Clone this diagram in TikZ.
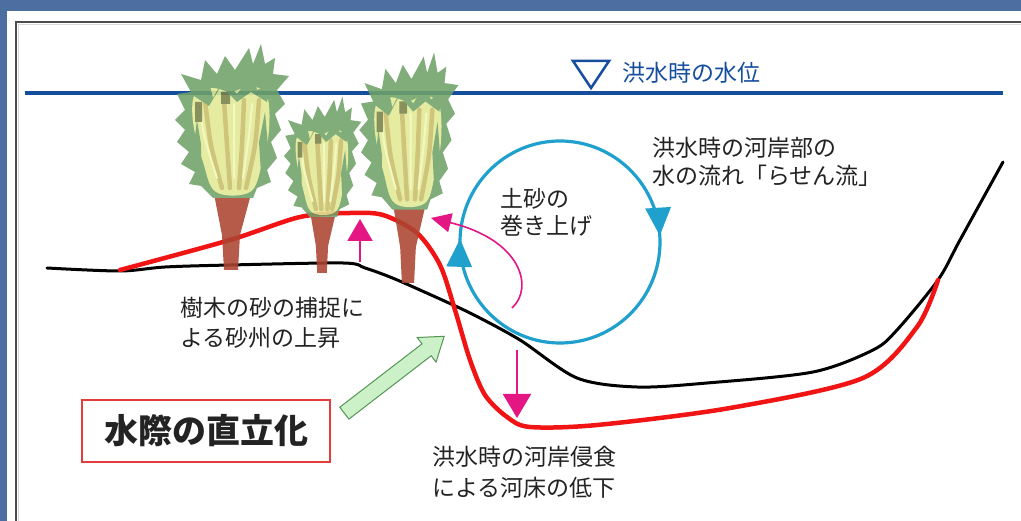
\documentclass[tikz,border=0pt]{standalone}
\usepackage{fontspec}
\newfontfamily\jp{Noto Sans CJK JP}
\usetikzlibrary{
  arrows.meta,
  decorations.markings,
  shapes.arrows,
}
\definecolor{slideblue}{RGB}{76,110,160}
\definecolor{floodblue}{RGB}{22,78,158}
\definecolor{vortex}{RGB}{32,160,204}
\definecolor{sandpink}{RGB}{228,22,132}
\definecolor{bankred}{RGB}{240,20,20}
\definecolor{boxred}{RGB}{226,60,60}
\definecolor{leafgreen}{RGB}{112,162,104}
\definecolor{leafpale}{RGB}{226,234,150}
\definecolor{leafolive}{RGB}{200,190,104}
\definecolor{leaflight}{RGB}{242,248,184}
\definecolor{leafdark}{RGB}{120,130,72}
\definecolor{bark}{RGB}{172,68,50}
\definecolor{pushfill}{RGB}{204,240,200}
\definecolor{pushedge}{RGB}{84,150,84}
\definecolor{ink}{RGB}{35,35,35}
\tikzstyle{note} = [
  anchor=north west,
  align=left,
  inner sep=0pt,
  text=ink,
]
\tikzstyle{pinkarrow} = [
  -{Triangle[length=22pt,width=25pt]},
  line width=2pt,
  sandpink,
]
\tikzstyle{groundline} = [
  line width=3pt,
  line cap=round,
  line join=round,
]
\tikzstyle{pusharrow} = [
  single arrow,
  draw=pushedge,
  fill=pushfill,
  line width=1pt,
  minimum height=126pt,
  inner sep=7pt,
  single arrow head extend=8pt,
  single arrow tip angle=70,
]

\begin{document}
\begin{tikzpicture}[x=1pt, y=-1pt, font=\jp]
  \useasboundingbox (0,0) rectangle (1021,521);

  % slide frame
  \fill [slideblue] (0,0) rectangle (1021,521);
  \fill [white] (7,11) rectangle (1021,521);
  \draw [line width=2.5pt, black!70] (16,521) -- (16,22) -- (1021,22);
  \draw [line width=1pt, black!15] (18.5,521) -- (18.5,24.5) -- (1021,24.5);

  % flood water level
  \draw [floodblue, line width=3.5pt] (25,93) -- (1003,93);
  \draw [floodblue, line width=2.5pt, line join=miter]
        (573,61) -- (609,61) -- (591,88) -- cycle;
  \node [note, anchor=west, text=floodblue, font=\jp\fontsize{23}{28}\selectfont]
        (level) at (622,73) {洪水時の水位};

  % old and new river bed
  \draw [groundline, black] plot [smooth, tension=0.5] coordinates {
    (47,268) (120,271) (165,267) (230,265) (343,263) (365,268) (390,277)
    (420,290) (470,313) (520,340) (577,378) (637,387) (707,383) (813,372)
    (873,350) (897,330) (938,280) (960,240) (1003,162)};
  \draw [groundline, bankred, line width=4.5pt] plot [smooth, tension=0.5] coordinates {
    (120,270) (230,240) (300,217) (350,213) (383,215) (417,233) (440,265)
    (455,310) (470,360) (485,395) (507,417) (530,427) (597,425) (730,408)
    (863,378) (917,327) (938,280)};

  % trees on the bar
  \foreach \tx/\ty/\sx/\sy in {231/270/1/1, 322/273/0.68/0.78, 408/283/0.87/1.02} {
    \begin{scope}[shift={(\tx,\ty)}, xscale=\sx, yscale=\sy,
                  transparency group, opacity=0.88]
      \fill [bark] (-7,0) -- (7,0) -- (9,-35) -- (20,-76) -- (-17,-76)
                   -- (-9,-35) -- cycle;
      \fill [leafgreen] (-18,-72) -- (-30,-84) -- (-42,-86) -- (-36,-98)
        -- (-50,-106) -- (-42,-118) -- (-54,-128) -- (-46,-140) -- (-56,-150)
        -- (-46,-160) -- (-54,-176) -- (-40,-178) -- (-50,-196) -- (-30,-190)
        -- (-26,-210) -- (-14,-196) -- (-6,-214) -- (4,-200) -- (18,-222)
        -- (22,-206) -- (30,-226) -- (34,-206) -- (44,-212) -- (42,-196)
        -- (58,-194) -- (46,-180) -- (54,-166) -- (44,-156) -- (50,-140)
        -- (40,-128) -- (46,-112) -- (36,-100) -- (40,-88) -- (26,-82)
        -- (22,-72) -- cycle;
      \fill [leafpale] plot [smooth cycle, tension=0.6] coordinates {
        (-15,-78) (-28,-108) (-38,-148) (-36,-176) (-18,-182) (0,-178)
        (20,-184) (36,-174) (38,-140) (31,-106) (19,-78)};
      \foreach \a/\b/\c in {-9/-20/-26, -1/-4/-7, 8/11/13, 15/24/28} {
        \draw [leafolive, line width=4.5pt, line cap=round]
              plot [smooth] coordinates {(\a,-82) (\b,-125) (\c,-170)};
      }
      \foreach \a/\b/\c in {-14/-27/-31, 3/3/3, 12/18/21} {
        \draw [leaflight, line width=2pt, line cap=round]
              plot [smooth] coordinates {(\a,-92) (\b,-135) (\c,-166)};
      }
      % green fringe over the leaves
      \fill [leafgreen] (-30,-100) -- (-38,-118) -- (-34,-150) -- (-30,-126) -- cycle;
      \fill [leafgreen] (30,-96) -- (37,-124) -- (34,-158) -- (28,-128) -- cycle;
      \fill [leafdark] (-10,-178) rectangle (-1,-166);
      \fill [leafdark] (-36,-168) rectangle (-29,-148);
      \fill [leafgreen] (-40,-176) -- (-24,-196) -- (-18,-172) -- (-8,-190)
        -- (6,-176) -- (22,-198) -- (26,-180) -- (40,-186) -- (36,-168)
        -- (20,-178) -- (6,-168) -- (-10,-184) -- (-22,-164) -- cycle;
    \end{scope}
  }

  % spiral flow at the bank
  \coordinate (eddy) at (560,242);
  \draw [vortex, line width=3.2pt, postaction={decorate},
         decoration={markings,
           mark=at position 0.505 with {\arrow{Triangle[length=28pt,width=25pt]}},
           mark=at position 0.99 with {\arrow{Triangle[length=28pt,width=25pt]}}}]
        (eddy) ellipse [x radius=100, y radius=101];

  % sediment arrows
  \coordinate (barFoot) at (360,262);
  \coordinate (barTop) at (360,219);
  \draw [pinkarrow] (barFoot) -- (barTop);

  \coordinate (bedTop) at (517,350);
  \coordinate (bedFoot) at (517,418);
  \draw [pinkarrow, -{Triangle[length=24pt,width=28pt]}] (bedTop) -- (bedFoot);

  \coordinate (liftFrom) at (512,308);
  \coordinate (liftTo) at (431,218);
  \draw [sandpink, line width=1.6pt, -{Triangle[length=20pt,width=19pt]}]
        (liftFrom) .. controls (534,288) and (522,240) .. (liftTo);

  % labels
  \node [note, font=\jp\fontsize{23}{30}\selectfont] (trap) at (180,297)
        {樹木の砂の捕捉に\\よる砂州の上昇};
  \node [note, font=\jp\fontsize{23}{27}\selectfont] (lift) at (500,188)
        {土砂の\\巻き上げ};
  \node [note, font=\jp\fontsize{23}{28}\selectfont] (spiral) at (652,137)
        {洪水時の河岸部の\\水の流れ「らせん流」};
  \node [note, font=\jp\fontsize{23}{31}\selectfont] (erode) at (432,446)
        {洪水時の河岸侵食\\による河床の低下};

  \node [draw=boxred, line width=1.2pt, minimum width=248pt, minimum height=62pt,
         text=ink, font=\jp\bfseries\fontsize{34}{34}\selectfont]
        (steep) at (206,431) {水際の直立化};

  \node [pusharrow, rotate=37.6] (push) at (390,378) {};

\end{tikzpicture}
\end{document}
